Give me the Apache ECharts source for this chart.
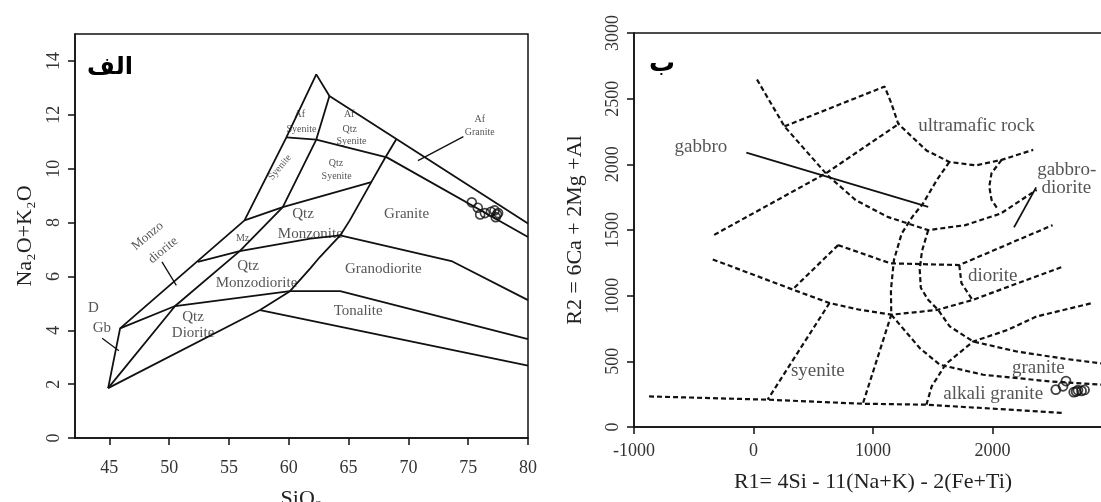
<!DOCTYPE html>
<html><head><meta charset="utf-8">
<script src="https://cdn.jsdelivr.net/npm/echarts@6/dist/echarts.min.js"></script>
<style>html,body{margin:0;padding:0;background:#fff}#c{width:1101px;height:502px}</style>
</head><body><div id="c"></div>
<script>
// ---------- Panel الف : SiO2 vs Na2O+K2O (Middlemost) ----------
const leftXTicks = [45, 50, 55, 60, 65, 70, 75, 80];
const leftYTicks = [0, 2, 4, 6, 8, 10, 12, 14];
const outerEdge = [[44.9,1.85],[45.9,4.07],[56.3,8.08],[59.8,11.16],[62.3,13.5],[63.4,12.7],[80,7.96]];
const afSyeniteBase = [[59.8,11.16],[62.3,11.08],[68.2,10.42],[80,7.46]];
const lineB = [[44.9,1.85],[50.5,4.9],[55.9,6.94],[59.5,8.57],[62.3,11.08],[63.4,12.7]];
const qtzSyeniteBase = [[56.3,8.08],[59.5,8.57],[66.9,9.5]];
const lineC = [[44.9,1.85],[57.6,4.75],[60.1,5.45],[61.8,6.3],[62.6,6.72],[64.3,7.52],[65.1,8.08],[66.9,9.5],[68.0,10.36],[69.0,11.1]];
const tonaliteBase = [[57.6,4.75],[80,2.69]];
const tonaliteTop = [[45.9,4.07],[50.5,4.9],[60.1,5.45],[64.3,5.45],[80,3.67]];
const granodioriteTop = [[52.4,6.54],[55.9,6.94],[61.8,7.4],[64.3,7.52],[73.6,6.57],[80,5.12]];
const afGraniteLeader = [[74.6,11.19],[70.8,10.3]];
const monzoLeader = [[49.4,6.54],[50.6,5.67]];
const dgbLeader = [[44.4,3.7],[45.8,3.24]];
const sampleSiO2 = [75.3, 75.8, 76.0, 76.4, 76.9, 77.2, 77.4, 77.3, 77.5];
const sampleAlk  = [8.75, 8.55, 8.3, 8.35, 8.4, 8.45, 8.3, 8.2, 8.35];
const leftLabelsLarge = [[61.2,8.33,'Qtz'],[61.8,7.59,'Monzonite'],[69.85,8.3,'Granite'],[67.9,6.29,'Granodiorite'],[65.8,4.72,'Tonalite'],[56.6,6.38,'Qtz'],[57.3,5.74,'Monzodiorite'],[52.0,4.5,'Qtz'],[52.0,3.89,'Diorite'],[43.66,4.81,'D'],[44.37,4.07,'Gb']];
const leftLabelsSmall = [[60.93,12.03,'Af'],[61.07,11.47,'Syenite'],[65.05,12.03,'Af'],[65.1,11.47,'Qtz'],[65.25,11.01,'Syenite'],[63.94,10.18,'Qtz'],[64.0,9.71,'Syenite'],[56.14,7.4,'Mz'],[75.97,11.84,'Af'],[75.97,11.35,'Granite']];
const leftLabelsSyenite = [[59.26,10.05,'Syenite']];
const leftLabelsMonzo = [[48.2,7.5,'Monzo'],[49.5,6.97,'diorite']];

// ---------- Panel ب : R1-R2 (De la Roche) ----------
const rightXTicks = [-1000, 0, 1000, 2000];
const rightYTicks = [0, 500, 1000, 1500, 2000, 2500, 3000];
const rL1 = [[29,2646],[259,2289],[620,1916],[856,1727],[1122,1600],[1462,1499],[1773,1537],[2068,1625],[2370,1806]];
const rUltramafic = [[259,2289],[1097,2592],[1153,2466],[1211,2309],[1447,2106],[1639,2018],[1861,1992],[2076,2034],[2341,2110]];
const rBulge = [[2076,2034],[1992,1933],[1973,1831],[1992,1730],[2048,1654]];
const rL2 = [[-329,1463],[608,1933],[1223,2313]];
const rL3 = [[1639,2018],[1536,1883],[1418,1701],[1329,1600],[1240,1473],[1175,1271],[1150,1043],[1153,855],[915,177]];
const rL7 = [[1462,1499],[1410,1340],[1391,1200],[1400,1060],[1461,969],[1544,893],[1642,766],[1838,651],[2202,575],[2600,520],[2950,480]];
const rL8 = [[2822,941],[2370,842],[2127,739],[1838,651],[1610,480],[1491,309],[1447,170]];
const rL5 = [[-341,1276],[339,1043],[636,944],[888,893],[1153,855],[1536,891],[1832,967],[2585,1220]];
const rSyeniteUpper = [[708,1385],[330,1050]];
const rDioriteTop = [[708,1385],[1146,1246],[1722,1233],[2503,1537]];
const rDioriteRight = [[1722,1233],[1740,1096],[1832,967]];
const rSyeniteRight = [[636,944],[118,208]];
const rGraniteUpper = [[1153,855],[1391,601],[1559,474],[1922,398],[2482,347],[2950,320]];
const rBottom = [[-874,233],[118,208],[915,177],[1447,170],[2593,107]];
const rGabbroLine = [[-60,2090],[1462,1676]];
const rGabbroDioriteLine = [[2180,1520],[2365,1825]];
const sampleR1 = [2530, 2590, 2615, 2680, 2715, 2745, 2770, 2700];
const sampleR2 = [285, 310, 350, 265, 280, 275, 282, 270];
const rightLabels = [[-440,2131,'gabbro'],[1866,2288,'ultramafic rock'],[2621,1958,'gabbro-'],[2618,1819,'diorite'],[2002,1146,'diorite'],[538,423,'syenite'],[2383,449,'granite'],[2006,253,'alkali granite']];

// ---------- build ----------
const SERIF = 'Liberation Serif';
const INK = '#111';
const TXT = '#2a2a2a';
function poly(pts, g, dashed, w) {
  return { type:'line', xAxisIndex:g, yAxisIndex:g, data:pts, showSymbol:false, symbol:'none',
    silent:true, clip:true, animation:false,
    lineStyle:{ color:INK, width:w || 1.8, type: dashed ? [5,3] : 'solid' } };
}
function labels(arr, g, size, rotate) {
  return { type:'scatter', xAxisIndex:g, yAxisIndex:g, symbolSize:1, silent:true, animation:false,
    itemStyle:{ color:'rgba(0,0,0,0)' },
    data: arr.map(a => ({ value:[a[0], a[1]], name:a[2] })),
    label:{ show:true, position:'inside', formatter:p => p.name, fontFamily:SERIF, fontSize:size,
      color:TXT, rotate: rotate || 0 } };
}
function axisCommon(ticks, rotate, margin) {
  return {
    splitLine:{ show:false },
    axisLine:{ show:true, onZero:false, lineStyle:{ color:INK, width:1.5 } },
    axisTick:{ show:true, length:7, customValues:ticks, lineStyle:{ color:INK, width:1.5 } },
    axisLabel:{ customValues:ticks, formatter:v => String(v), fontFamily:SERIF, fontSize:18, color:'#333', rotate:rotate, margin:margin },
    nameTextStyle:{ fontFamily:SERIF, fontSize:22, color:'#222' }
  };
}
const series = [];
[outerEdge, afSyeniteBase, lineB, qtzSyeniteBase, lineC, tonaliteBase, tonaliteTop, granodioriteTop].forEach(p => series.push(poly(p, 0, false, 1.8)));
[afGraniteLeader, monzoLeader, dgbLeader].forEach(p => series.push(poly(p, 0, false, 1.3)));
series.push({ type:'scatter', xAxisIndex:0, yAxisIndex:0, symbol:'circle', symbolSize:9, silent:true, animation:false,
  itemStyle:{ color:'rgba(255,255,255,0)', borderColor:INK, borderWidth:1.6 },
  data: sampleSiO2.map((v,i) => [v, sampleAlk[i]]) });
series.push(labels(leftLabelsLarge, 0, 15));
series.push(labels(leftLabelsSmall, 0, 10));
series.push(labels(leftLabelsSyenite, 0, 10, 50));
series.push(labels(leftLabelsMonzo, 0, 13, 40));

[rL1, rUltramafic, rBulge, rL2, rL3, rL7, rL8, rL5, rSyeniteUpper, rDioriteTop, rDioriteRight, rSyeniteRight, rGraniteUpper, rBottom].forEach(p => series.push(poly(p, 1, true, 2.2)));
[rGabbroLine, rGabbroDioriteLine].forEach(p => series.push(poly(p, 1, false, 1.8)));
series.push({ type:'scatter', xAxisIndex:1, yAxisIndex:1, symbol:'circle', symbolSize:9, silent:true, animation:false,
  itemStyle:{ color:'rgba(255,255,255,0)', borderColor:INK, borderWidth:1.8 },
  data: sampleR1.map((v,i) => [v, sampleR2[i]]) });
series.push(labels(rightLabels, 1, 19));

const option = {
  animation:false,
  backgroundColor:'#fff',
  textStyle:{ fontFamily:SERIF },
  grid:[
    { left:75, top:34, width:453, height:404, show:true, borderColor:INK, borderWidth:1.5, backgroundColor:'rgba(0,0,0,0)', containLabel:false, outerBoundsMode:'none' },
    { left:634, top:33, width:478, height:394, show:true, borderColor:INK, borderWidth:1.5, backgroundColor:'rgba(0,0,0,0)', containLabel:false, outerBoundsMode:'none' }
  ],
  xAxis:[
    Object.assign({ gridIndex:0, type:'value', min:42.13, max:80, name:'SiO\u2082', nameLocation:'middle', nameGap:50 }, axisCommon(leftXTicks, 0, 21)),
    Object.assign({ gridIndex:1, type:'value', min:-1000, max:3000, name:'R1= 4Si - 11(Na+K) - 2(Fe+Ti)', nameLocation:'middle', nameGap:44 }, axisCommon(rightXTicks, 0, 15))
  ],
  yAxis:[
    Object.assign({ gridIndex:0, type:'value', min:0, max:15, name:'Na\u2082O+K\u2082O', nameLocation:'middle', nameRotate:90, nameGap:39 }, axisCommon(leftYTicks, 90, 12)),
    Object.assign({ gridIndex:1, type:'value', min:0, max:3000, name:'R2 = 6Ca + 2Mg +Al', nameLocation:'middle', nameRotate:90, nameGap:48 }, axisCommon(rightYTicks, 90, 12))
  ],
  graphic:[
    { type:'text', x:110, y:68, style:{ text:'الف', font:'bold 24px "DejaVu Sans"', fill:'#000', align:'center', verticalAlign:'middle' } },
    { type:'text', x:662, y:64, style:{ text:'ب', font:'bold 26px "DejaVu Sans"', fill:'#000', align:'center', verticalAlign:'middle' } }
  ],
  series:series
};
const chart = echarts.init(document.getElementById('c'), null, { renderer:'canvas' });
chart.setOption(option);
</script></body></html>
